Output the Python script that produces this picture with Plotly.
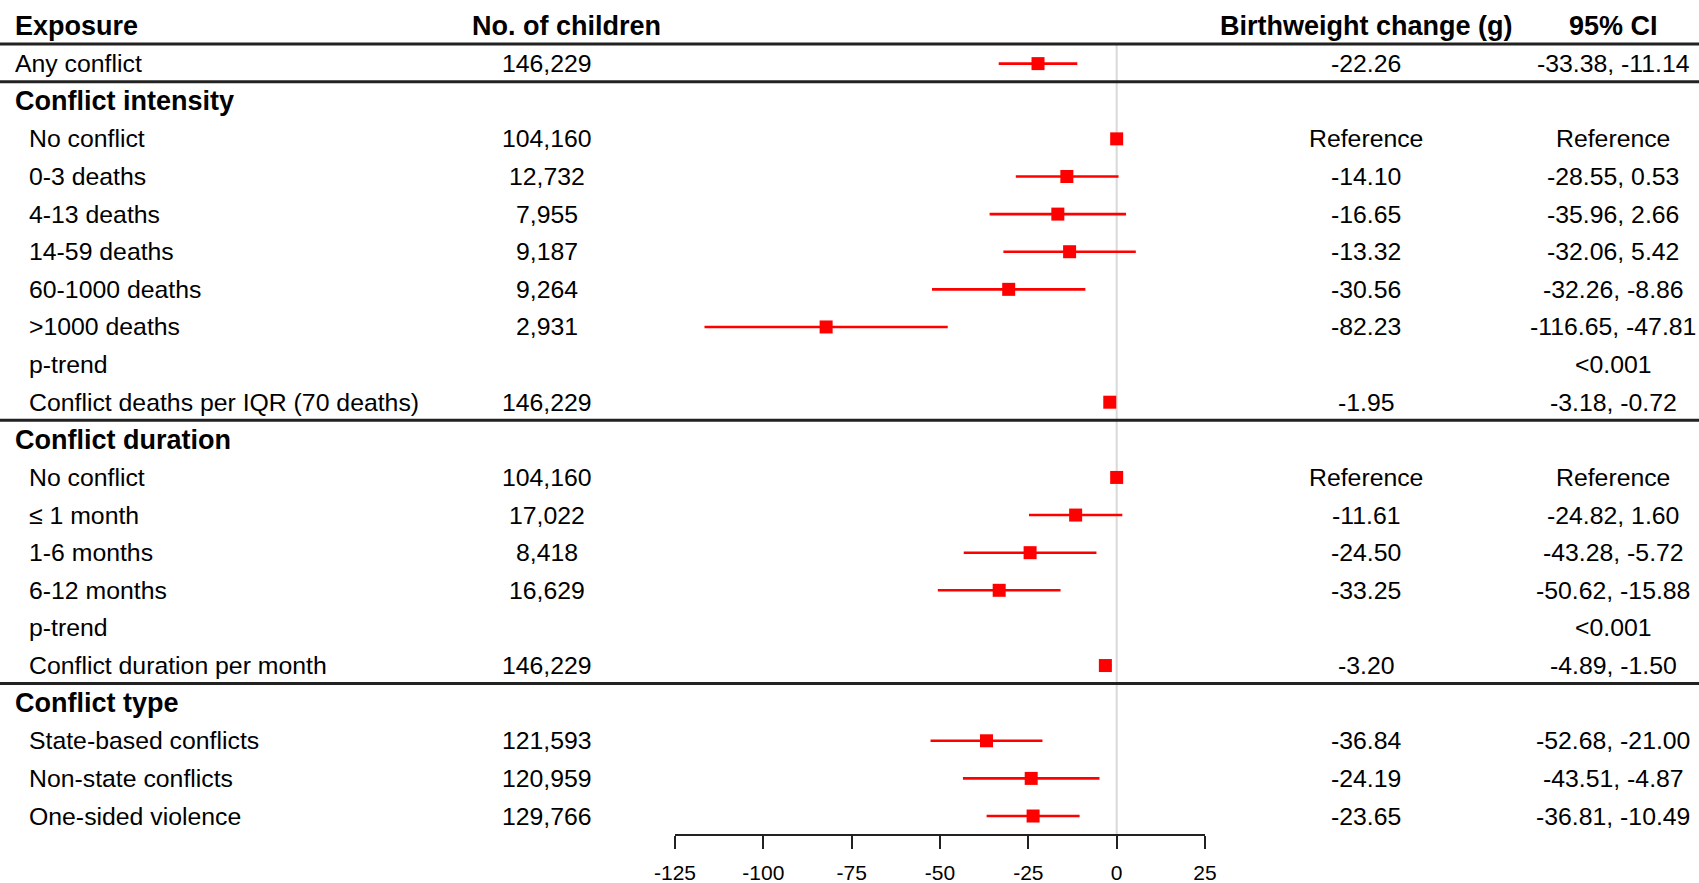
import plotly.graph_objects as go

# ---------------- data ----------------
header = ["Exposure", "No. of children", "Birthweight change (g)", "95% CI"]

exposure = ["Any conflict", "Conflict intensity", "No conflict", "0-3 deaths", "4-13 deaths",
            "14-59 deaths", "60-1000 deaths", ">1000 deaths", "p-trend",
            "Conflict deaths per IQR (70 deaths)", "Conflict duration", "No conflict",
            "≤ 1 month", "1-6 months", "6-12 months", "p-trend", "Conflict duration per month",
            "Conflict type", "State-based conflicts", "Non-state conflicts", "One-sided violence"]
is_group = [False, True, False, False, False, False, False, False, False, False, True,
            False, False, False, False, False, False, True, False, False, False]
is_indented = [False, False, True, True, True, True, True, True, True, True, False,
               True, True, True, True, True, True, False, True, True, True]
n_children = ["146,229", "", "104,160", "12,732", "7,955", "9,187", "9,264", "2,931", "",
              "146,229", "", "104,160", "17,022", "8,418", "16,629", "", "146,229", "",
              "121,593", "120,959", "129,766"]
estimate = [-22.26, None, 0, -14.10, -16.65, -13.32, -30.56, -82.23, None, -1.95, None,
            0, -11.61, -24.50, -33.25, None, -3.20, None, -36.84, -24.19, -23.65]
ci_low = [-33.38, None, 0, -28.55, -35.96, -32.06, -52.26, -116.65, None, -3.18, None,
          0, -24.82, -43.28, -50.62, None, -4.89, None, -52.68, -43.51, -36.81]
ci_high = [-11.14, None, 0, 0.53, 2.66, 5.42, -8.86, -47.81, None, -0.72, None,
           0, 1.60, -5.72, -15.88, None, -1.50, None, -21.00, -4.87, -10.49]
est_text = ["-22.26", "", "Reference", "-14.10", "-16.65", "-13.32", "-30.56", "-82.23", "",
            "-1.95", "", "Reference", "-11.61", "-24.50", "-33.25", "", "-3.20", "",
            "-36.84", "-24.19", "-23.65"]
ci_text = ["-33.38, -11.14", "", "Reference", "-28.55, 0.53", "-35.96, 2.66", "-32.06, 5.42",
           "-32.26, -8.86", "-116.65, -47.81", "<0.001", "-3.18, -0.72", "", "Reference",
           "-24.82, 1.60", "-43.28, -5.72", "-50.62, -15.88", "<0.001", "-4.89, -1.50", "",
           "-52.68, -21.00", "-43.51, -4.87", "-36.81, -10.49"]
separator_after = [0, 1, 10, 17]   # rows (0 = header) followed by a rule
tick_vals = [-125, -100, -75, -50, -25, 0, 25]

# ---------------- layout constants ----------------
W, H = 1699, 883
FONT = "Liberation Sans, Arial, Helvetica, sans-serif"
ROW0_PX, ROW_STEP = 26, 37.62
AXIS_PX = 834
ax_left, ax_right = 675, 1205

rows = list(range(1, len(exposure) + 1))
y_top = -ROW0_PX / ROW_STEP
y_bot = (AXIS_PX - ROW0_PX) / ROW_STEP

px, py, ep, em = [], [], [], []
for r, e, lo, hi in zip(rows, estimate, ci_low, ci_high):
    if e is None:
        continue
    px.append(e)
    py.append(r)
    ep.append(hi - e)
    em.append(e - lo)

fig = go.Figure()
fig.add_trace(go.Scatter(
    x=px, y=py, mode="markers",
    marker=dict(symbol="square", size=13, color="#ff0000", line=dict(width=0)),
    error_x=dict(type="data", symmetric=False, array=ep, arrayminus=em,
                 width=0, thickness=2.6, color="#ff0000"),
    showlegend=False, hoverinfo="skip",
))

annotations = []

def add_text(x_px, y, text, anchor, bold=False, size=24.8):
    annotations.append(dict(
        x=x_px / W, xref="paper", y=y, yref="y", text=f"<b>{text}</b>" if bold else text,
        showarrow=False, xanchor=anchor, yanchor="middle",
        font=dict(family=FONT, size=27 if bold else size, color="black"),
    ))

add_text(13, 0, header[0], "left", bold=True)
add_text(566, 0, header[1], "center", bold=True)
add_text(1366, 0, header[2], "center", bold=True)
add_text(1613, 0, header[3], "center", bold=True)

for r, lab, g, ind, n, et, ct in zip(rows, exposure, is_group, is_indented, n_children,
                                      est_text, ci_text):
    add_text(27 if ind else 13, r, lab, "left", bold=g)
    if n:
        add_text(547, r, n, "center")
    if et:
        add_text(1366, r, et, "center")
    if ct:
        add_text(1613, r, ct, "center")

shapes = []
for s in separator_after:
    shapes.append(dict(type="line", xref="paper", yref="y", x0=0, x1=1,
                       y0=s + 0.48, y1=s + 0.48, line=dict(color="#222222", width=3),
                       layer="above"))
shapes.append(dict(type="line", xref="x", yref="y", x0=0, x1=0, y0=0.5,
                   y1=y_bot, line=dict(color="#d9d9d9", width=2), layer="below"))

fig.update_layout(
    template="none",
    width=W, height=H, margin=dict(l=0, r=0, t=0, b=0, pad=0, autoexpand=False),
    paper_bgcolor="white", plot_bgcolor="white",
    annotations=annotations, shapes=shapes,
    xaxis=dict(domain=[ax_left / W, ax_right / W], range=[tick_vals[0], tick_vals[-1]],
               tickvals=tick_vals, ticktext=[str(v) for v in tick_vals],
               automargin=False,
               showgrid=False, zeroline=False, showline=True, linecolor="#222222",
               linewidth=1.5, ticks="outside", ticklen=13, tickwidth=1.5,
               tickcolor="#222222", ticklabelstandoff=6,
               tickfont=dict(family=FONT, size=21, color="black")),
    yaxis=dict(domain=[(H - AXIS_PX) / H, 1], range=[y_bot, y_top], visible=False,
               automargin=False, showgrid=False, zeroline=False),
)

fig.write_html("out.html")
